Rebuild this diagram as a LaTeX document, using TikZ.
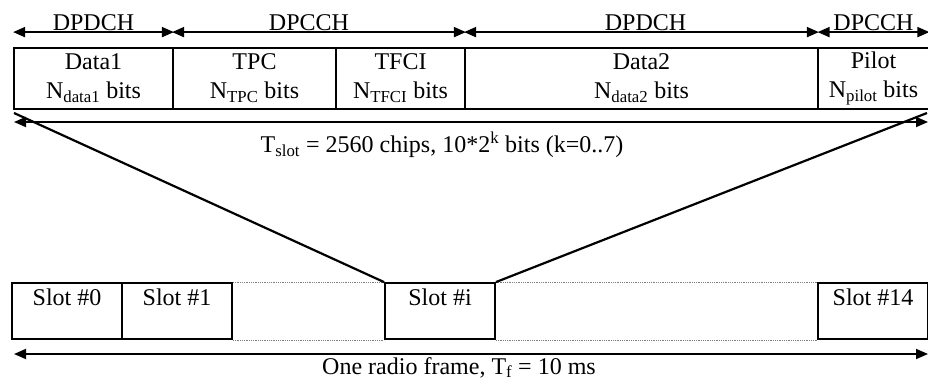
\documentclass[tikz,border=0pt]{standalone}
\usepackage{fontspec}
\setmainfont{Liberation Serif}
\usetikzlibrary{arrows.meta}
\begin{document}
\begin{tikzpicture}[x=1pt,y=-1pt,
  lbl/.style={font=\fontsize{24}{30}\selectfont},
  field/.style={draw,line width=1.8pt,rectangle,minimum height=61pt,inner xsep=0pt,inner ysep=0pt,
    align=center,font=\fontsize{24}{29}\selectfont},
  slotbox/.style={draw,line width=1.8pt,rectangle,minimum width=110pt,inner xsep=0pt,inner ysep=0pt,
    font=\fontsize{24}{30}\selectfont,text height=22pt,text depth=34pt},
  dbl/.style={line width=1.8pt,{Triangle[length=12pt,width=10pt]}-{Triangle[length=12pt,width=10pt]}},
  fan/.style={line width=2.2pt},
  dots/.style={densely dotted,line width=0.8pt,gray}]
\useasboundingbox (0,0) rectangle (928,382);
% top slot fields
\node[field,minimum width=159pt] (d1) at (93.5,78.5) {Data1\\N\textsubscript{data1} bits};
\node[field,minimum width=163pt] (tpc) at (254.5,78.5) {TPC\\N\textsubscript{TPC} bits};
\node[field,minimum width=129pt] (tfci) at (400.5,78.5) {TFCI\\N\textsubscript{TFCI} bits};
\node[field,minimum width=353pt] (d2) at (641.5,78.5) {Data2\\N\textsubscript{data2} bits};
\node[field,minimum width=110pt] (pil) at (873.5,78.5) {Pilot\\N\textsubscript{pilot} bits};
% channel arrows
\draw[dbl] ([yshift=15pt]d1.north west) -- ([yshift=15pt]d1.north east)
  node[lbl,midway,anchor=base,yshift=2pt] (c1) {DPDCH};
\draw[dbl] ([yshift=15pt]tpc.north west) -- ([yshift=15pt]tfci.north east)
  node[lbl,midway,anchor=base,yshift=2pt,xshift=-10pt] (c2) {DPCCH};
\draw[dbl] ([yshift=15pt]d2.north west) -- ([yshift=15pt]d2.north east)
  node[lbl,midway,anchor=base,yshift=2pt,xshift=4pt] (c3) {DPDCH};
\draw[dbl] ([yshift=15pt]pil.north west) -- ([yshift=15pt]pil.north east)
  node[lbl,midway,anchor=base,yshift=2pt] (c4) {DPCCH};
% slot length arrow
\coordinate (tsl) at (14,122);
\coordinate (tsr) at (928,122);
\draw[dbl] (tsl) -- (tsr);
\node[lbl,anchor=base] (tslot) at (442,153) {T\textsubscript{slot} = 2560 chips, 10*2\textsuperscript{k} bits (k=0..7)};
% frame slots
\node[slotbox] (s0) at (67,311) {Slot \#0};
\node[slotbox] (s1) at (177,311) {Slot \#1};
\node[slotbox] (si) at (440,311) {Slot \#i};
\node[slotbox] (s14) at (873,311) {Slot \#14};
\draw[dots] (s1.north east) -- (si.north west);
\draw[dots] (s1.south east) -- (si.south west);
\draw[dots] (si.north east) -- (s14.north west);
\draw[dots] (si.south east) -- (s14.south west);
% fan lines
\coordinate (fl) at (14,113);
\coordinate (fr) at (927,113);
\draw[fan] (fl) -- (si.north west);
\draw[fan] (fr) -- (si.north east);
% frame arrow
\coordinate (fa) at (14,354);
\coordinate (fb) at (928,354);
\draw[dbl] (fa) -- (fb);
\node[lbl,anchor=base] (frame) at (459,374) {One radio frame, T\textsubscript{f} = 10 ms};
\end{tikzpicture}
\end{document}
